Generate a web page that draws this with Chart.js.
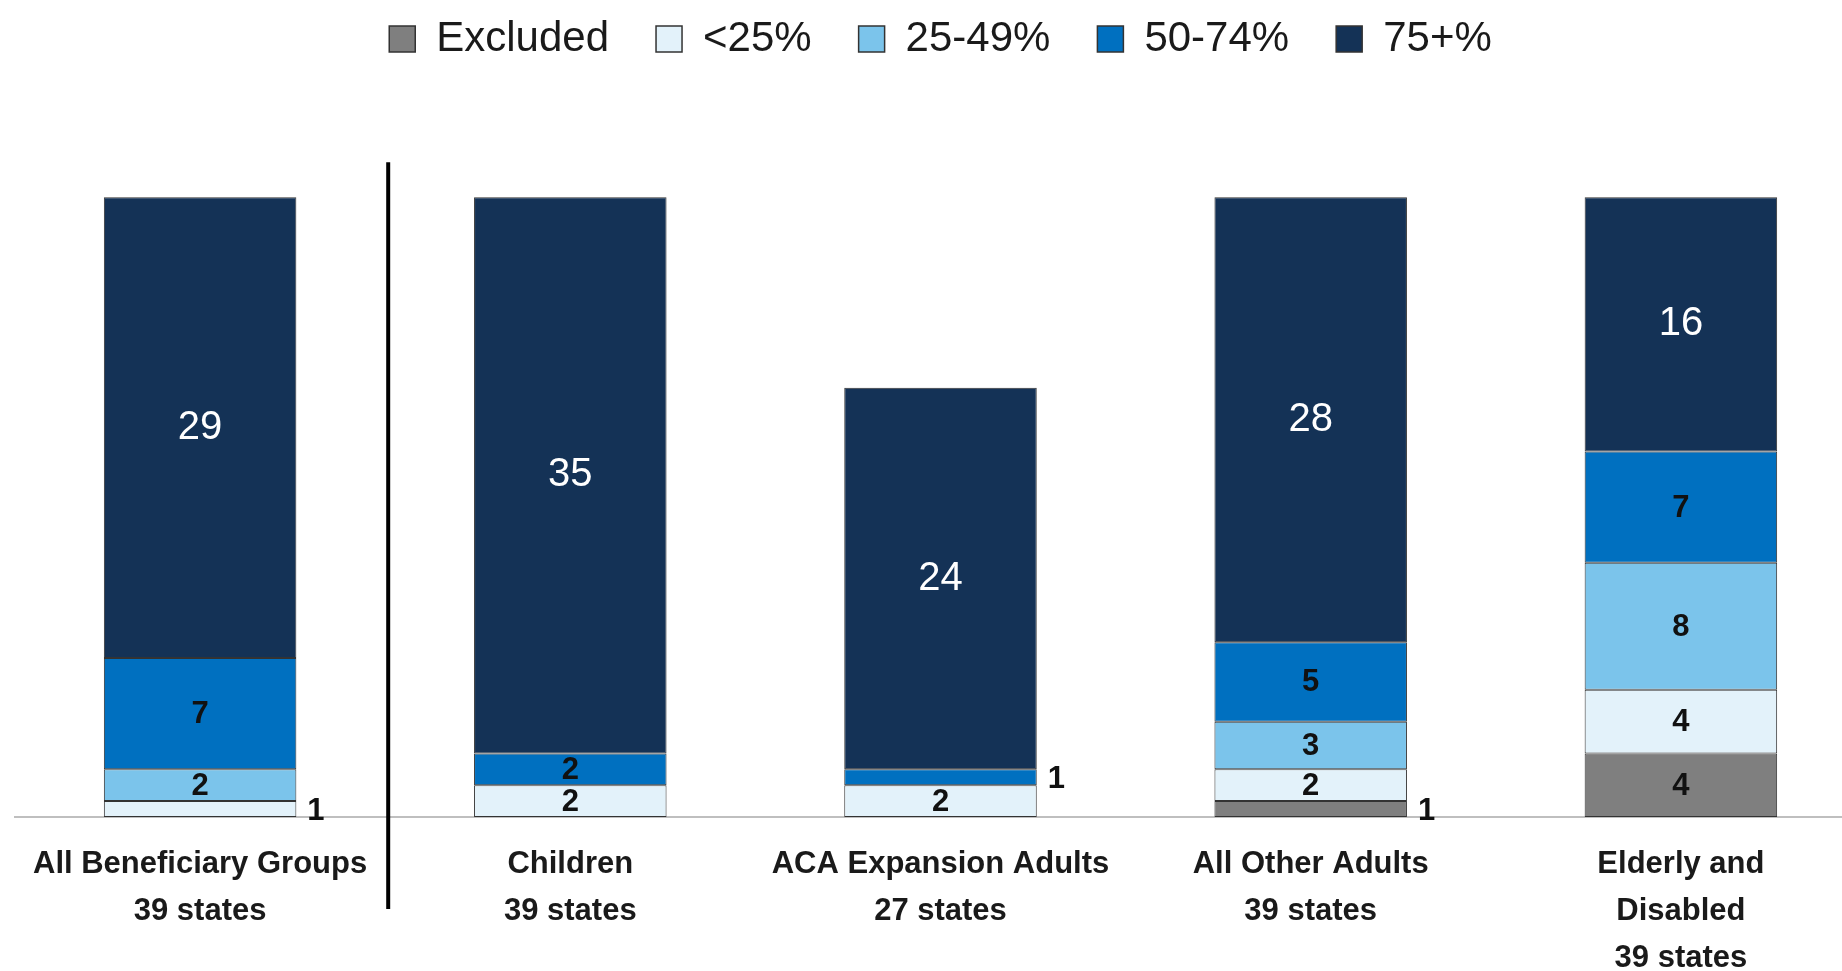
<!DOCTYPE html>
<html>
<head>
<meta charset="utf-8">
<script src="https://cdn.jsdelivr.net/npm/chart.js@4"></script>
<style>
  html, body { margin: 0; padding: 0; background: #ffffff; overflow: hidden; }
  #wrap { position: absolute; left: 0; top: 0; width: 1866px; height: 971px; }
</style>
</head>
<body>
<div id="wrap"><canvas id="c"></canvas></div>
<script>
// ---- data ----
const categories = [
  ['All Beneficiary Groups', '39 states'],
  ['Children', '39 states'],
  ['ACA Expansion Adults', '27 states'],
  ['All Other Adults', '39 states'],
  ['Elderly and', 'Disabled', '39 states']
];
const seriesNames = ['Excluded', '<25%', '25-49%', '50-74%', '75+%'];
const excluded = [0, 0, 0, 1, 4];
const under25 = [1, 2, 2, 2, 4];
const from25to49 = [2, 0, 0, 3, 8];
const from50to74 = [7, 2, 1, 5, 7];
const over75 = [29, 35, 24, 28, 16];
const seriesColors = ['#7f7f7f', '#e3f2fa', '#7bc4eb', '#0070c0', '#143256'];

const seriesValues = [excluded, under25, from25to49, from50to74, over75];

const FONT = "'Liberation Sans', Arial, sans-serif";

const datasets = seriesValues.map((vals, i) => ({
  label: seriesNames[i],
  data: vals.map(v => (v === 0 ? null : v)),
  backgroundColor: seriesColors[i],
  borderColor: '#333333',
  borderWidth: 1,
  borderSkipped: false,
  categoryPercentage: 1.0,
  barPercentage: 0.52
}));

const segmentLabels = {
  id: 'segmentLabels',
  afterDatasetsDraw(chart) {
    const ctx = chart.ctx;
    ctx.save();
    chart.data.datasets.forEach((ds, di) => {
      const meta = chart.getDatasetMeta(di);
      meta.data.forEach((bar, i) => {
        const v = ds.data[i];
        if (v === null || v === undefined) return;
        const cy = (bar.y + bar.base) / 2;
        if (v === 1) {
          ctx.font = 'bold 31px ' + FONT;
          ctx.fillStyle = '#111111';
          ctx.textAlign = 'left';
          ctx.textBaseline = 'middle';
          ctx.fillText(String(v), bar.x + bar.width / 2 + 11, cy + 2);
        } else if (di === 4) {
          ctx.font = '40px ' + FONT;
          ctx.fillStyle = '#ffffff';
          ctx.textAlign = 'center';
          ctx.textBaseline = 'middle';
          ctx.fillText(String(v), bar.x, cy);
        } else {
          ctx.font = 'bold 31px ' + FONT;
          ctx.fillStyle = '#111111';
          ctx.textAlign = 'center';
          ctx.textBaseline = 'middle';
          ctx.fillText(String(v), bar.x, cy + 1);
        }
      });
    });
    ctx.restore();
  }
};

const separator = {
  id: 'separator',
  afterDraw(chart) {
    const xs = chart.scales.x, ys = chart.scales.y;
    const x = (xs.getPixelForValue(0) + xs.getPixelForValue(1)) / 2 + 3;
    const ctx = chart.ctx;
    ctx.save();
    ctx.strokeStyle = '#000000';
    ctx.lineWidth = 4;
    ctx.beginPath();
    ctx.moveTo(x, ys.getPixelForValue(41.2));
    ctx.lineTo(x, ys.bottom + 92);
    ctx.stroke();
    ctx.restore();
  }
};

new Chart(document.getElementById('c'), {
  type: 'bar',
  data: { labels: categories, datasets },
  options: {
    responsive: true,
    maintainAspectRatio: false,
    animation: false,
    layout: { padding: { left: 15, right: 0, top: 6, bottom: 0 } },
    plugins: {
      tooltip: { enabled: false },
      legend: {
        position: 'top',
        align: 'center',
        labels: {
          boxWidth: 26,
          boxHeight: 26,
          padding: 12,
          color: '#1a1a1a',
          font: { family: FONT, size: 42 },
          generateLabels(chart) {
            const items = Chart.defaults.plugins.legend.labels.generateLabels(chart);
            items.forEach((it, k) => {
              if (k < items.length - 1) it.text = it.text + '   ';
              it.lineWidth = 1.5;
              it.strokeStyle = '#333333';
            });
            return items;
          }
        }
      }
    },
    scales: {
      x: {
        stacked: true,
        grid: { display: false, drawTicks: false },
        border: { display: true, color: '#bfbfbf', width: 2 },
        ticks: {
          padding: 24,
          color: '#1a1a1a',
          maxRotation: 0,
          autoSkip: false,
          font: { family: FONT, size: 31, weight: 'bold', lineHeight: 1.52 }
        },
        afterFit(scale) { scale.height = 154; }
      },
      y: {
        stacked: true,
        display: false,
        min: 0,
        max: 47
      }
    }
  },
  plugins: [segmentLabels, separator]
});
</script>
</body>
</html>
